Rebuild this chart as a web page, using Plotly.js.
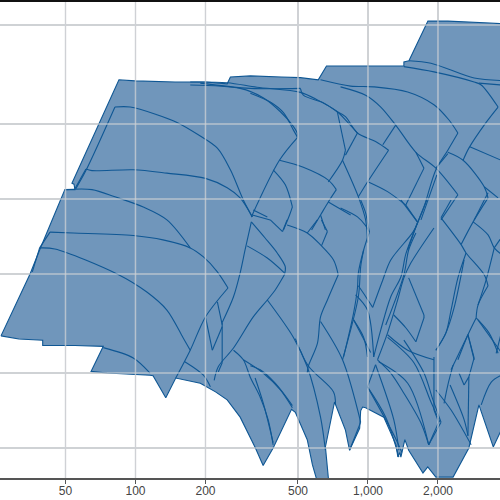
<!DOCTYPE html>
<html><head><meta charset="utf-8">
<script src="https://cdn.plot.ly/plotly-3.0.1.min.js"></script>
<style>html,body{margin:0;padding:0;background:#fff}</style>
</head><body><div id="chart" style="width:500px;height:500px"></div>
<script>
const xTicks=[50,100,200,500,1000,2000];
const yTicks=[1,2,5,10,20,50];
const outlineX=[26.4,35.2,38.7,49.7,54.9,54.4,53.3,84.9,99.7,148,200,248,256,312,424,512,611,663,884,1427,1427,1500,1810,2206,3350,4570,4570,3745,3458,3000,2716,2323,1959,1808,1724,1496,1441,1385,1371,1344,1320,1253,1169,977,948,930,921,833,800,718,656,678,606,577,548,487,469,391,354,328,305,282,248,221,196,190,149,135,119,115.5,75.4,64.4,72.7,54.9,39.9,39.9,31.5,26.4];
const outlineY=[2.82,5.0,6.24,10.9,10.9,11.46,11.57,30.1,29.8,29.5,29.5,29.0,30.9,31.2,30.9,30.7,30.1,34.2,34.2,34.2,35.5,35.9,51.8,51.8,50.9,49.9,1.42,1.18,1.01,1.49,1.0,.764,.764,.839,.794,.98,1.08,.92,.96,.92,1.03,1.15,1.33,1.45,1.46,1.41,1.2,.98,1.18,1.53,1.01,.73,.73,.855,1.08,1.39,1.43,1.0,.85,1.0,1.15,1.33,1.56,1.68,1.79,1.82,1.91,1.59,1.95,1.96,2.0,2.03,2.56,2.58,2.58,2.71,2.74,2.82];

const c1x=[55.4,61.2,81.6,94.9,123.7,150.9,190,225,256,291,318], c1y=[11,13,23.4,23.4,21.8,20.3,17.9,16,13.1,9.91,8.47];
const c2x=[54.9,61.2,65,97.8,136.5,200,248,282,318], c2y=[11,13.2,13,13.1,12.7,12.1,11.1,10.1,8.47];
const c3x=[49.7,65,81.6,108,136.5,172], c3y=[10.9,10.9,10.2,9.28,8.24,6.36];
const c4x=[38.7,42.9,53.9,97.8,131.3,172,196,225,250,200,172,149], c4y=[6.36,7.36,7.3,7.13,6.85,6.36,5.85,5.1,4.39,3.36,2.47,1.91];
const c5x=[36,38.7,45,83.4,111.9,136.5,160,172], c5y=[5.1,6.36,6.3,5,4.23,3.58,2.78,2.47];
const c6x=[72.7,97.8,115.5], c6y=[2.53,2.3,2];
const c7x=[172,248,333,512,606,738,815,901], c7y=[29.5,29.3,28.1,26.8,25,22.4,20.4,18.4];
const c8x=[190,312,512,527,644,738], c8y=[29.2,27.8,27.8,26.1,24.3,22.4];
const c9x=[172,282,354,420,473,496,496,416,315], c9y=[28.7,27.8,25.5,22.4,19.8,18.4,17.6,14.3,8.47];
const c10x=[312,380,433,478,496], c10y=[26.6,24.5,22.2,18.9,17.8];
const c11x=[416,527,675,731,675,625,572], c11y=[14.3,13.4,11.9,10.9,9.73,8.62,7.51];
const c12x=[391,441,473,460,433], c12y=[13.1,11.4,9.3,8.62,7.51];
const c13x=[675,842], c13y=[9.73,8.62];
const c14x=[625,656], c14y=[8.62,7.51];
const c15x=[318,380,429,449], c15y=[8.62,8.24,7.4,8.24];
const c16x=[321,369], c16y=[9.03,8.47];
const c17x=[449,548,625,711,745,669,625,606,553,548], c17y=[7.86,7.3,6.54,5.69,4.96,3.93,3.36,2.63,2.12,2];
const c18x=[606,548], c18y=[8.24,7.3];
const c19x=[631,669,631], c19y=[8.24,7.4,6.48];
const c20x=[302,369,437], c20y=[6.48,5.79,5.05];
const c21x=[315,361,407,441,437,399,369,321,264,227,218], c21y=[8.09,6.97,6.07,5.34,4.96,4.31,3.93,3.36,2.52,2.12,1.87];
const c22x=[315,296,282,264,236,236,227], c22y=[8.09,6.24,5.05,4.05,3.19,2.2,2.02];
const c23x=[200,214,236], c23y=[3.36,2.47,3.07];
const c24x=[225,236], c24y=[3.86,3.13];
const c25x=[264,291,312,344,372,391], c25y=[2.47,2.26,1.92,1.6,1.3,1.03];
const c26x=[291,354,420,473], c26y=[2.26,2,1.71,1.45];
const c27x=[163,196,210], c27y=[2.22,1.96,1.76];
const c28x=[625,842,1058,1482,1922,2226,2436,2205,1959,1741,1607,1482], c28y=[30.1,28.4,28.2,26.9,23.9,20.8,18.4,15.7,13.1,9.28,7.72,6.24];
const c29x=[738,800,777,675], c29y=[22.4,15.7,14.3,11.7];
const c30x=[777,909,977,995], c30y=[14.3,10.2,8.24,6.67];
const c31x=[738,800,901,1078,1226,995,909], c31y=[22.4,21.4,18.4,17,15.7,11.7,10.2];
const c32x=[901,800], c32y=[18.4,15];
const c33x=[762,977,1135,1316,1607,1959,2436,2061], c33y=[28.2,26.1,23.4,19.8,15.4,13.3,10.4,8.24];
const c34x=[1316,1158], c34y=[19.8,16.5];
const c35x=[1607,1741,1454,1637], c35y=[15.4,13.3,9.45,8.05];
const c36x=[1004,1214,1454], c36y=[11.7,10.7,9.45];
const c37x=[1978,1690], c37y=[12.5,8.24];
const c38x=[1959,2205], c38y=[13.3,15.2];
const c39x=[2205,2565,3161,3284,2833,2515], c39y=[15.4,14.3,11.2,10.1,8.09,6.56];
const c40x=[1500,1866,2861,3745], c40y=[35.9,35.1,30.6,29.9];
const c41x=[1427,1922,2861,3069,3627,3222,2716,2565], c41y=[34,32.4,29.5,28.7,23.4,20.3,16,14.3];
const c42x=[3000,3745], c42y=[29.2,28.7];
const c43x=[2741,3745], c43y=[16.2,14.3];
const c44x=[3161,3627], c44y=[11.2,10.1];
const c45x=[3284,2861], c45y=[10.6,8.24];
const c46x=[762,901,977,1014,958,909,901,867,785], c46y=[9.2,8.47,7.81,7.36,6.24,5.05,4.39,3.48,2.32];
const c47x=[930,977,995,1014], c47y=[9.91,8.8,8.05,7.36];
const c48x=[1385,1637,1561,1253,1158,1048,977,909], c48y=[9.91,8.05,7.36,5.69,4.73,3.67,4.06,4.48];
const c49x=[1791,1607,1454,1385,1253,1135,1058], c49y=[9.91,7.72,6,4.86,4.05,2.98,2.32];
const c50x=[1922,1530,1427,1341,1214,1099], c50y=[7.65,5.54,4.82,3.93,2.9,2.26];
const c51x=[1607,1496,1427,1192], c51y=[7.3,6.24,4.96,3.12];
const c52x=[2277,2061,2515,2641,3161,3284,2973,2918,3315,3627], c52y=[9.91,8.4,6.56,6.07,4.96,4.48,3.75,3.33,2.9,2.4];
const c53x=[2833,3284,3492,3745], c53y=[8.09,7.17,6.36,6];
const c54x=[3745,3492,3222,2973], c54y=[7,6.36,4.73,3.75];
const c55x=[2641,2436,2277,2164,1959], c55y=[6.07,4.82,3.58,2.9,2.47];
const c56x=[1496,1741,1741,1607], c56y=[4.82,3.42,3.33,2.67];
const c57x=[1291,1454,1607], c57y=[3.42,3.04,2.67];
const c58x=[1214,1482,1922], c58y=[2.85,2.47,2.26];
const c59x=[867,958,995], c59y=[3.27,2.78,2.32];
const c60x=[884,995,1058], c60y=[4.12,3.58,2.32];
const c61x=[2918,2691,2436], c61y=[3.33,2.85,2.26];
const c62x=[2691,2861], c62y=[2.85,2.26];
const c63x=[3745,3560], c63y=[2.9,2.4];
const c64x=[1099,1253,1427,1690,1825], c64y=[2.26,2,1.66,1.26,1.03];
const c65x=[1427,1741,1903,2061,1825], c65y=[2.71,2,1.56,1.27,1.03];
const c66x=[1214,1576,1866,2040], c66y=[2.78,2.2,1.53,1.27];
const c67x=[1112,1482,1825], c67y=[2.22,1.82,1.03];
const c68x=[995,1192,1358], c68y=[1.76,1.33,.92];
const c69x=[995,1291,1399], c69y=[1.76,1.13,.96];
const c70x=[1078,1291,1358], c70y=[2.16,1.3,.98];
const c71x=[995,1078], c71y=[1.76,2.16];
const c72x=[1959,2277,2778], c72y=[1.71,1.42,1.03];
const c73x=[2255,2590,2691], c73y=[1.79,1.3,1.12];
const c74x=[2463,2590,2716], c74y=[2,1.79,1.93];
const c75x=[2323,2205,2124], c75y=[2.15,1.79,1.51];
const c76x=[1959,2164,2345,2590], c76y=[2.47,2.9,3.65,5.69];
const c77x=[2277,2691,2861,2716,2691], c77y=[2.06,2.85,2.3,1.93,1.12];
const c78x=[2973,3745], c78y=[3.27,2.42];
const c79x=[3069,3390,3745], c79y=[1.49,1.84,1.96];
const c80x=[312,344,399,473], c80y=[2.14,2.06,1.82,1.48];
const c81x=[327,354,391], c81y=[1.91,1.52,1.05];
const c82x=[369,478,548,625,656], c82y=[3.93,2.78,2.12,1.33,.98];
const c83x=[487,553,711,725], c83y=[2.75,2.14,1.68,1.49];
const c84x=[625,777,930,833], c84y=[3.22,2.26,1.27,.98];
const c85x=[777,909,930,958], c85y=[2.26,4.05,5.34,6.24];
const c86x=[867,1027], c86y=[3.27,2.42];
const c87x=[1922,1922,2015,1825], c87y=[2.32,1.42,1.27,1.03];

const curves=[[c1x,c1y],[c2x,c2y],[c3x,c3y],[c4x,c4y],[c5x,c5y],[c6x,c6y],[c7x,c7y],[c8x,c8y],[c9x,c9y],[c10x,c10y],
[c11x,c11y],[c12x,c12y],[c13x,c13y],[c14x,c14y],[c15x,c15y],[c16x,c16y],[c17x,c17y],[c18x,c18y],[c19x,c19y],[c20x,c20y],
[c21x,c21y],[c22x,c22y],[c23x,c23y],[c24x,c24y],[c25x,c25y],[c26x,c26y],[c27x,c27y],[c28x,c28y],[c29x,c29y],[c30x,c30y],
[c31x,c31y],[c32x,c32y],[c33x,c33y],[c34x,c34y],[c35x,c35y],[c36x,c36y],[c37x,c37y],[c38x,c38y],[c39x,c39y],[c40x,c40y],
[c41x,c41y],[c42x,c42y],[c43x,c43y],[c44x,c44y],[c45x,c45y],[c46x,c46y],[c47x,c47y],[c48x,c48y],[c49x,c49y],[c50x,c50y],
[c51x,c51y],[c52x,c52y],[c53x,c53y],[c54x,c54y],[c55x,c55y],[c56x,c56y],[c57x,c57y],[c58x,c58y],[c59x,c59y],[c60x,c60y],
[c61x,c61y],[c62x,c62y],[c63x,c63y],[c64x,c64y],[c65x,c65y],[c66x,c66y],[c67x,c67y],[c68x,c68y],[c69x,c69y],[c70x,c70y],
[c71x,c71y],[c72x,c72y],[c73x,c73y],[c74x,c74y],[c75x,c75y],[c76x,c76y],[c77x,c77y],[c78x,c78y],[c79x,c79y],[c80x,c80y],
[c81x,c81y],[c82x,c82y],[c83x,c83y],[c84x,c84y],[c85x,c85y],[c86x,c86y],[c87x,c87y]];
// point indexes, per curve number, where a curve turns a sharp corner
const sharpCorners={1:[2],2:[1],4:[1,8],5:[1],8:[2],9:[6],11:[3],12:[2],15:[1,2],17:[4],19:[1],21:[4],22:[4,5],23:[1],28:[6],29:[1],31:[4],33:[6],35:[1,2],39:[3],41:[4],46:[3],48:[1,5],52:[1,5,7],54:[1],56:[1,2],65:[3],74:[1],77:[1,2,3],84:[2],87:[1,2,3]};

const fillColor='#7096bb', lineColor='#0f5794', overGrid='rgba(205,208,212,0.75)';
const traces=[{x:outlineX,y:outlineY,mode:'lines',fill:'toself',fillcolor:fillColor,line:{color:lineColor,width:1.1},hoverinfo:'skip'}];
curves.forEach((c,i)=>{
  const cuts=[0,...(sharpCorners[i+1]||[]),c[0].length-1];
  for(let k=0;k<cuts.length-1;k++){
    traces.push({x:c[0].slice(cuts[k],cuts[k+1]+1),y:c[1].slice(cuts[k],cuts[k+1]+1),mode:'lines',
      line:{color:lineColor,width:1.1,shape:'spline',smoothing:0.9},hoverinfo:'skip'});
  }
});
xTicks.forEach(v=>traces.push({x:[v,v],y:[.7,70],mode:'lines',line:{color:overGrid,width:1.5},hoverinfo:'skip'}));
yTicks.forEach(v=>traces.push({x:[20,5000],y:[v,v],mode:'lines',line:{color:overGrid,width:1.5},hoverinfo:'skip'}));

Plotly.newPlot('chart',traces,{
  width:500,height:500,showlegend:false,paper_bgcolor:'#fff',plot_bgcolor:'#fff',
  margin:{l:0,r:0,t:1,b:22,pad:0},
  shapes:[{type:'line',xref:'paper',yref:'paper',x0:0,x1:1,y0:1,y1:1,line:{color:'#111',width:2}}],
  xaxis:{type:'log',range:[1.4173,3.5678],tickmode:'array',tickvals:xTicks,ticktext:['50','100','200','500','1,000','2,000'],
    ticks:'outside',ticklen:4,tickcolor:'#555',ticklabelstandoff:-3,tickfont:{family:'Liberation Sans, Arial, sans-serif',size:12,color:'#444'},
    showline:true,linecolor:'#555',linewidth:1.5,gridcolor:'#d2d4d6',gridwidth:1.5,zeroline:false},
  yaxis:{type:'log',range:[-0.1205,1.795],tickmode:'array',tickvals:yTicks,showticklabels:false,ticks:'',
    gridcolor:'#d2d4d6',gridwidth:1.5,zeroline:false,showline:false}
},{displayModeBar:false,staticPlot:true});
</script></body></html>
